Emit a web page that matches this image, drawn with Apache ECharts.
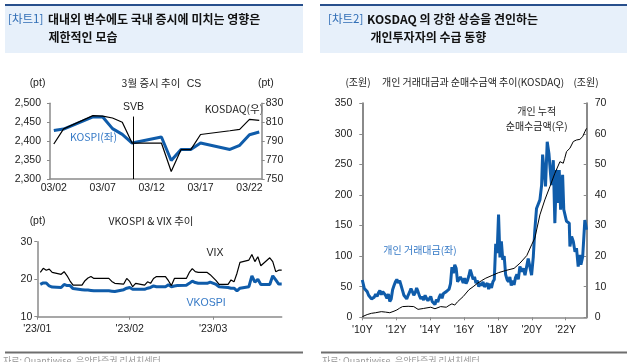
<!DOCTYPE html>
<html><head><meta charset="utf-8">
<script src="https://cdn.jsdelivr.net/npm/echarts@6/dist/echarts.min.js"></script>
<style>html,body{margin:0;padding:0;background:#fff}#c{width:627px;height:362px}</style>
</head><body><div id="c"></div>
<script>
// ---- Chart 1 (top): March index moves ----
const marchDays = [2,3,6,7,8,9,10,13,14,15,16,17,20,21,22,23];
const kospi  = [2428,2432,2464,2464,2433,2418,2395,2411,2349,2378,2378,2395,2378,2389,2417,2424];
const kosdaq = [787,803,817,816.5,814.5,810,788,788,758,781,781,797,801,802.5,813,812];
const marchTickDays = [2,7,12,17,22];
const svbDay = 10.12, csDay = 16.35;

// ---- Chart 1 (bottom): VKOSPI & VIX ----
const volDates = ['01-02','01-03','01-04','01-05','01-06','01-09','01-10','01-11','01-12','01-13','01-16','01-17','01-18','01-19','01-20','01-25','01-26','01-27','01-30','01-31',
 '02-01','02-02','02-03','02-06','02-07','02-08','02-09','02-10','02-13','02-14','02-15','02-16','02-17','02-20','02-21','02-22','02-23','02-24','02-27','02-28',
 '03-02','03-03','03-06','03-07','03-08','03-09','03-10','03-13','03-14','03-15','03-16','03-17','03-20','03-21','03-22','03-23','03-24'];
const vix = [21.8,22.9,22.4,22.7,21.8,21.3,22.0,20.9,19.5,18.4,18.4,19.6,20.3,20.7,20.2,20.2,19.4,18.9,18.7,20.2,
 19.4,18.0,18.9,18.4,19.3,18.9,20.2,20.7,20.7,19.6,18.3,20.2,20.2,20.2,21.8,22.8,22.0,21.8,21.8,21.2,
 19.6,18.6,18.6,19.8,19.3,21.6,24.5,25.1,26.6,24.7,26.0,23.6,25.7,24.7,22.0,22.4,22.4];
const vkospi = [18.6,19.0,19.0,18.2,17.9,17.8,18.6,18.3,18.3,17.5,17.2,17.1,17.1,17.0,16.9,16.9,16.8,16.7,17.2,17.6,
 17.8,17.3,17.3,17.3,17.6,17.8,18.2,18.0,18.0,18.5,18.0,18.2,18.3,18.4,18.9,19.5,19.1,18.9,18.9,19.2,
 18.6,18.0,17.8,17.6,17.6,16.9,17.6,18.0,20.9,19.2,20.0,18.6,18.6,20.9,19.8,18.7,18.7];
const volTickDates = ['01-01','02-01','03-01'];
const volTickLabels = ["'23/01","'23/02","'23/03"];

// ---- Chart 2: KOSDAQ individual trading value & cumulative net buying ----
const tradeDates = ['2010-01-01','2010-02','2010-03','2010-04','2010-05','2010-06','2010-07','2010-08','2010-09','2010-10','2010-11','2010-12',
 '2011-01','2011-02','2011-03','2011-04','2011-05','2011-06','2011-07','2011-08','2011-09','2011-10','2011-11','2011-12',
 '2012-01','2012-02','2012-03','2012-04','2012-05','2012-06','2012-07','2012-08','2012-09','2012-10','2012-11','2012-12',
 '2013-01','2013-02','2013-03','2013-04','2013-05','2013-06','2013-07','2013-08','2013-09','2013-10','2013-11','2013-12',
 '2014-01','2014-02','2014-03','2014-04','2014-05','2014-06','2014-07','2014-08','2014-09','2014-10','2014-11','2014-12',
 '2015-01','2015-02','2015-03','2015-04','2015-05','2015-06','2015-07','2015-08','2015-09','2015-10','2015-11','2015-12',
 '2016-01','2016-02','2016-03','2016-04','2016-05','2016-06','2016-07','2016-08','2016-09','2016-10','2016-11','2016-12',
 '2017-01','2017-02','2017-03','2017-04','2017-05','2017-06','2017-07','2017-08','2017-09','2017-10','2017-11','2017-12',
 '2018-01','2018-02','2018-03','2018-04','2018-05','2018-06','2018-07','2018-08','2018-09','2018-10','2018-11','2018-12',
 '2019-01','2019-02','2019-03','2019-04-19','2019-05-25','2019-07-01','2019-08-07','2019-09-09','2019-10-15','2019-11-21','2019-12-27',
 '2020-02-03','2020-03-06','2020-04-12','2020-05-18','2020-06-24','2020-07-30','2020-08-21','2020-09-27','2020-10-23','2020-11-29',
 '2021-01-05','2021-02-11','2021-03-02','2021-04-08','2021-05-11','2021-06-17','2021-07-23','2021-08-14','2021-09-13','2021-10-26','2021-11-21',
 '2022-01-19','2022-03-17','2022-04-01','2022-05-07','2022-06-13','2022-07-19','2022-08-21','2022-09-27','2022-11-03','2022-11-25',
 '2023-01-02','2023-02-18','2023-03-24'];
const tradeValue = [61,47,50,42,36,33,30,29,33,38,34,40,
 44,37,42,45,36,31,38,26,30,45,52,58,
 62,56,60,52,44,36,33,30,36,41,47,42,
 36,40,48,42,35,30,34,28,36,31,27,29,
 34,26,23,21,29,25,33,38,31,39,36,42,
 40,46,55,82,72,86,80,58,55,66,62,56,
 64,55,60,68,78,70,62,66,56,60,50,56,
 52,58,50,48,56,46,55,48,58,62,120,105,
 168,98,124,94,100,70,62,58,66,52,60,53,
 65,70,62,83,75,80,69,66,96,94,69,
 99,143,178,176,192,216,266,268,214,287,
 268,233,216,257,154,241,187,241,176,233,176,
 157,154,116,132,124,107,113,83,102,86,
 99,159,143];
const netBuyDates = ['2010-01-01','2010-04','2010-07','2010-10','2011-02','2011-05','2011-08','2011-11','2012-01','2012-03','2012-05','2012-09',
 '2013-01','2013-04','2013-08','2014-01','2014-04','2014-08','2014-12','2015-02','2015-04','2015-06','2015-08','2015-12',
 '2016-04','2016-07','2016-10','2017-01','2017-04','2017-09','2018-01','2018-06','2018-12','2019-04-19','2019-09',
 '2019-12-27','2020-03-06','2020-06-24','2020-10-08','2021-01-25','2021-05-11','2021-08-29','2021-10-05','2021-11-10','2021-12-10',
 '2022-01-19','2022-04-01','2022-06-13','2022-08-21','2022-11-03','2023-01-02','2023-02-18','2023-03-24'];
const netBuyCum = [0.2,0.9,1.3,1.5,1.85,1.7,1.5,2.0,2.4,3.0,3.5,3.6,
 3.5,2.6,2.9,3.3,2.8,3.5,3.3,3.9,4.4,4.0,5.1,6.8,
 9.0,10.0,11.1,12.0,12.8,13.8,14.6,15.3,16.0,17.7,20.2,
 23.7,25.9,33.5,38.4,42.7,47.1,50.9,51.5,50.4,52.0,
 54.2,55.3,57.5,58.0,58.2,59.1,60.7,61.8];
const yearTicks = [2010,2012,2014,2016,2018,2020,2022];

// ---- helpers ----
const KR = '"Noto Sans CJK KR", sans-serif';
const NUM = '"Liberation Sans", Arial, sans-serif';
const BLUE = '#0f5caa', TBLUE = '#3579c6', AX = '#8a8a8a', LBL = '#222';
const doy = s => { const [m,d] = s.split('-').map(Number); return (m===1?0:m===2?31:59) + d; };
const yf = s => { const p = s.split('-').map(Number); const d = p[2] || 15; return p[0] + (p[1]-1)/12 + (d-1)/365; };
const pad = n => (n<10?'0':'')+n;
const comma = v => String(v).replace(/\B(?=(\d{3})+(?!\d))/g, ',');

const volTicks = volTickDates.map(doy);
const lab = {fontSize:10.5, color:LBL, fontFamily:NUM};
const axLine = {show:true, lineStyle:{color:AX, width:1.5}};

function txt(t, x, y, o) {
  o = o || {};
  return {type:'text', silent:true, style:{text:t, x:x, y:y, fill:o.fill||'#222',
    font:(o.bold?'bold ':'')+(o.size||10.5)+'px '+(o.family||KR),
    align:o.align||'center', verticalAlign:'middle', textAlign:o.align||'center', textVerticalAlign:'middle'}};
}

const graphics = [
  // headers
  {type:'rect', silent:true, shape:{x:5,y:6,width:298,height:47}, style:{fill:'#e7f0fa'}},
  {type:'rect', silent:true, shape:{x:5,y:4,width:298,height:2}, style:{fill:'#274f8c'}},
  {type:'rect', silent:true, shape:{x:320,y:6,width:307,height:47}, style:{fill:'#e7f0fa'}},
  {type:'rect', silent:true, shape:{x:320,y:4,width:307,height:2}, style:{fill:'#274f8c'}},
  txt('[차트1]', 8, 19, {align:'left', fill:'#2f6db5', size:11.5}),
  txt('대내외 변수에도 국내 증시에 미치는 영향은', 48, 19, {align:'left', bold:true, size:12, fill:'#111'}),
  txt('제한적인 모습', 48.5, 37, {align:'left', bold:true, size:12, fill:'#111'}),
  txt('[차트2]', 328, 19, {align:'left', fill:'#2f6db5', size:11.5}),
  txt('KOSDAQ 의 강한 상승을 견인하는', 367, 19, {align:'left', bold:true, size:12, fill:'#111'}),
  txt('개인투자자의 수급 동향', 370.5, 37, {align:'left', bold:true, size:12, fill:'#111'}),
  // footers
  {type:'rect', silent:true, shape:{x:5,y:351.5,width:298,height:2}, style:{fill:'#6e6e6e'}},
  {type:'rect', silent:true, shape:{x:321,y:351.5,width:306,height:2}, style:{fill:'#6e6e6e'}},
  txt('자료: Quantiwise, 유안타증권 리서치센터', 3, 361, {align:'left', size:9, fill:'#999'}),
  txt('자료: Quantiwise, 유안타증권 리서치센터', 322, 361, {align:'left', size:9, fill:'#999'}),
  // chart 1 top texts
  txt('(pt)', 37.5, 83, {family:NUM}),
  txt('3월 증시 추이', 151, 83),
  txt('CS', 194, 84.5, {family:NUM}),
  txt('(pt)', 265.8, 83, {family:NUM}),
  txt('SVB', 133.5, 107, {family:NUM}),
  txt('KOSDAQ(우)', 234, 109.5),
  txt('KOSPI(좌)', 93.5, 137.5, {fill:TBLUE}),
  // chart 1 bottom texts
  txt('(pt)', 37.5, 220.7, {family:NUM}),
  txt('VKOSPI & VIX 추이', 151, 220.7),
  txt('VIX', 215, 253.3, {family:NUM}),
  txt('VKOSPI', 206, 302.7, {family:NUM, fill:TBLUE}),
  // chart 2 texts
  txt('(조원)', 358, 82.7, {size:10}),
  txt('개인 거래대금과 순매수금액 추이(KOSDAQ)', 473, 82.7, {size:10}),
  txt('(조원)', 586, 82.7, {size:10}),
  txt('개인 누적', 536.7, 111.7, {size:10}),
  txt('순매수금액(우)', 536.7, 126, {size:10}),
  txt('개인 거래대금(좌)', 420, 250, {size:10, fill:TBLUE})
];

const option = {
  animation:false,
  backgroundColor:'#fff',
  grid:[
    {left:50, top:103.3, width:211.7, height:75.7},
    {left:37.3, top:241.7, width:244.4, height:75},
    {left:362.3, top:103.3, width:224.4, height:214}
  ],
  xAxis:[
    {type:'value', gridIndex:0, min:1.61, max:23.25, axisLine:axLine, axisTick:{show:false}, splitLine:{show:false},
     axisLabel:Object.assign({}, lab, {margin:4, customValues:marchTickDays, formatter:v=>'03/'+pad(Math.round(v))})},
    {type:'value', gridIndex:1, min:1, max:83, axisLine:axLine, splitLine:{show:false},
     axisTick:{show:true, length:3, lineStyle:{color:AX}, customValues:volTicks},
     axisLabel:Object.assign({}, lab, {margin:7, customValues:volTicks, formatter:v=>volTickLabels[volTicks.indexOf(v)]||''})},
    {type:'value', gridIndex:2, min:2010, max:2023.24, axisLine:axLine, splitLine:{show:false},
     axisTick:{show:true, length:3, lineStyle:{color:AX}, customValues:yearTicks},
     axisLabel:Object.assign({}, lab, {margin:7, customValues:yearTicks, formatter:v=>"'"+String(v).slice(2)+'Y'})}
  ],
  yAxis:[
    {type:'value', gridIndex:0, min:2300, max:2500, interval:50, axisLine:axLine, splitLine:{show:false},
     axisTick:{show:true, length:3, lineStyle:{color:AX}}, axisLabel:Object.assign({}, lab, {margin:9, formatter:comma})},
    {type:'value', gridIndex:0, position:'right', min:750, max:830, interval:20, axisLine:axLine, splitLine:{show:false},
     axisTick:{show:true, length:3, lineStyle:{color:AX}}, axisLabel:Object.assign({}, lab, {margin:4})},
    {type:'value', gridIndex:1, min:10, max:30, interval:10, axisLine:axLine, splitLine:{show:false},
     axisTick:{show:true, length:3, lineStyle:{color:AX}}, axisLabel:Object.assign({}, lab, {margin:5})},
    {type:'value', gridIndex:2, min:0, max:350, interval:50, axisLine:Object.assign({}, axLine, {lineStyle:{color:AX, width:2}}), splitLine:{show:false},
     axisTick:{show:true, length:3, lineStyle:{color:AX}}, axisLabel:Object.assign({}, lab, {margin:10})},
    {type:'value', gridIndex:2, position:'right', min:0, max:70, interval:10, axisLine:Object.assign({}, axLine, {lineStyle:{color:AX, width:2}}), splitLine:{show:false},
     axisTick:{show:true, length:3, inside:true, lineStyle:{color:AX}}, axisLabel:Object.assign({}, lab, {margin:8})}
  ],
  series:[
    {type:'line', name:'KOSPI', xAxisIndex:0, yAxisIndex:0, symbol:'none', silent:true,
     data:marchDays.map((d,i)=>[d,kospi[i]]), lineStyle:{color:BLUE, width:3}},
    {type:'line', name:'KOSDAQ', xAxisIndex:0, yAxisIndex:1, symbol:'none', silent:true, clip:false,
     data:marchDays.map((d,i)=>[d,kosdaq[i]]), lineStyle:{color:'#000', width:1.2},
     markLine:{symbol:'none', silent:true, label:{show:false}, animation:false, data:[
       [{coord:[svbDay,750], lineStyle:{color:'#000', width:1, type:'solid'}}, {coord:[svbDay,816]}],
       [{coord:[csDay,750], lineStyle:{color:'#8a8a8a', width:2, type:'solid'}}, {coord:[csDay,845.5]}]
     ]}},
    {type:'line', name:'VKOSPI', xAxisIndex:1, yAxisIndex:2, symbol:'none', silent:true,
     data:volDates.map((d,i)=>[doy(d),vkospi[i]]), lineStyle:{color:BLUE, width:3}},
    {type:'line', name:'VIX', xAxisIndex:1, yAxisIndex:2, symbol:'none', silent:true,
     data:volDates.map((d,i)=>[doy(d),vix[i]]), lineStyle:{color:'#000', width:1.2}},
    {type:'line', name:'개인 거래대금', xAxisIndex:2, yAxisIndex:3, symbol:'none', silent:true,
     data:tradeDates.map((d,i)=>[yf(d),tradeValue[i]]), lineStyle:{color:BLUE, width:3}},
    {type:'line', name:'개인 누적 순매수금액', xAxisIndex:2, yAxisIndex:4, symbol:'none', silent:true,
     data:netBuyDates.map((d,i)=>[yf(d),netBuyCum[i]]), lineStyle:{color:'#000', width:1}}
  ],
  graphic:{elements:graphics}
};
const chart = echarts.init(document.getElementById('c'), null, {renderer:'canvas'});
chart.setOption(option);
</script></body></html>
